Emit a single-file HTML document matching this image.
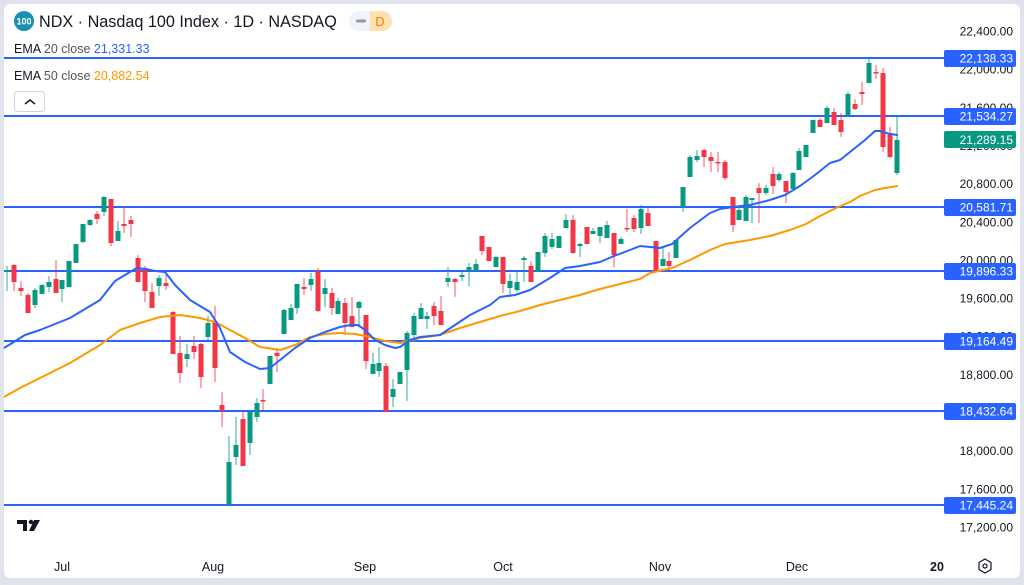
<!DOCTYPE html>
<html><head><meta charset="utf-8"><style>
html,body{margin:0;padding:0;background:#e0e3eb;}
body{width:1024px;height:585px;position:relative;overflow:hidden;font-family:"Liberation Sans",sans-serif;}
#card{position:absolute;left:4px;top:4px;width:1016px;height:574px;background:#fff;border-radius:6px;}
svg{position:absolute;left:0;top:0;}
.t{font-family:"Liberation Sans",sans-serif;}
</style></head><body>
<div id="card"></div>
<svg id="s" width="1024" height="585" xmlns="http://www.w3.org/2000/svg"></svg>
<script>
const s=document.getElementById('s');let h='';
const G='#089981',R='#f23645',B='#2962ff';
function yp(p){return 31+(22400-p)*38.15/400;}
[[22400],[22000],[21600],[21200],[20800],[20400],[20000],[19600],[19200],[18800],[18400],[18000],[17600],[17200]].forEach(a=>{
 const y=yp(a[0]);h+=`<text class="t" x="1013" y="${y+4.5}" font-size="12" fill="#131722" text-anchor="end">${a[0].toLocaleString('en-US')}.00</text>`;});
const lv=[[58,'22,138.33'],[116,'21,534.27'],[207,'20,581.71'],[271,'19,896.33'],[341,'19,164.49'],[411,'18,432.64'],[505,'17,445.24']];
lv.forEach(l=>{h+=`<line x1="4" x2="944" y1="${l[0]}" y2="${l[0]}" stroke="${B}" stroke-width="2"/>`;});
const C=[[7,270,272,266,291,G],[14,265,282,264,291,R],[21,288,291,281,296,R],[28,295,313,293,313,R],[35,290,305,288,308,G],[42,285,294,284,294,G],[49,282,287,276,292,G],[56,279,293,260,293,R],[62,280,289,280,302,G],[69,261,287,261,287,G],[76,244,263,244,263,G],[83,224,242,224,243,G],[90,220,225,219,226,G],[97,214,219,211,224,R],[104,197,212,196,216,G],[111,199,243,199,246,R],[118,231,241,221,241,G],[124,224,226,206,233,R],[131,220,224,216,237,R],[138,258,282,255,282,R],[145,268,291,266,302,R],[152,292,308,283,308,R],[159,278,286,275,296,G],[166,283,286,275,290,R],[173,312,354,311,354,R],[180,353,373,336,383,R],[187,354,359,344,367,G],[194,346,352,336,359,R],[201,344,377,343,388,R],[208,323,337,316,340,G],[215,321,368,306,382,R],[222,405,411,392,427,R],[229,462,505,436,505,G],[236,445,457,417,465,G],[243,419,466,411,466,R],[250,412,443,411,455,G],[257,403,417,398,422,G],[263,400,401,389,411,R],[270,356,384,356,384,G],[277,353,356,348,372,R],[284,310,334,309,334,G],[291,308,320,304,320,G],[297,284,308,284,314,G],[304,287,289,278,295,R],[311,279,285,273,291,G],[318,271,311,268,312,R],[325,288,294,279,307,G],[332,293,308,288,315,R],[338,301,314,298,314,G],[345,303,323,298,335,R],[352,316,327,297,327,R],[359,302,308,301,326,G],[366,315,361,315,369,R],[373,364,374,353,374,G],[379,363,371,347,377,G],[386,366,412,363,412,R],[393,389,397,379,407,G],[400,372,384,372,384,G],[407,333,370,331,401,G],[414,316,335,313,342,G],[421,308,319,303,319,G],[427,316,319,312,329,G],[434,306,316,302,325,R],[441,311,325,296,325,R],[448,278,282,267,287,G],[455,279,282,278,297,R],[462,275,277,270,281,G],[469,267,271,263,286,G],[476,264,271,259,271,G],[482,236,251,236,255,R],[489,247,261,247,261,R],[496,257,267,256,267,G],[503,257,284,257,293,R],[510,281,288,274,297,G],[517,282,290,272,292,G],[524,258,260,256,282,G],[531,266,282,261,282,R],[538,252,272,252,272,G],[545,236,253,233,257,G],[552,239,247,233,249,G],[559,236,248,236,248,G],[566,220,228,214,228,G],[573,220,253,215,254,R],[580,244,246,243,257,G],[587,227,244,227,244,R],[593,231,234,228,234,G],[600,227,236,227,243,G],[607,225,238,221,238,G],[614,233,255,233,267,R],[621,239,244,237,244,G],[627,228,229,209,232,R],[634,218,229,215,232,R],[641,209,228,205,234,G],[648,213,226,208,226,R],[656,241,272,241,272,R],[663,259,266,247,266,G],[669,261,266,252,272,R],[676,240,258,240,258,G],[683,187,207,187,212,G],[690,157,177,155,177,G],[697,156,160,150,162,G],[704,150,157,149,167,R],[711,157,161,152,172,R],[718,162,163,152,172,R],[725,162,178,160,180,R],[733,197,225,197,232,R],[739,210,220,206,220,G],[746,197,221,195,221,G],[752,198,200,198,223,G],[759,188,193,183,223,R],[766,188,193,185,195,G],[773,174,186,167,194,R],[779,174,180,172,182,G],[786,181,192,181,203,R],[793,173,189,172,189,G],[799,151,170,148,170,G],[806,145,157,145,157,G],[813,120,133,120,133,G],[820,120,127,118,127,R],[827,108,123,106,123,G],[834,112,125,108,125,R],[841,120,132,113,137,R],[848,94,116,92,116,G],[855,104,109,99,110,R],[862,92,94,82,105,R],[869,63,83,58,83,G],[876,72,73,65,79,R],[883,73,147,68,152,R],[890,133,157,127,158,R],[897,140,173,116,175,G]];
C.forEach(c=>{const col=c[5];
 h+=`<line x1="${c[0]}" x2="${c[0]}" y1="${c[3]}" y2="${c[4]}" stroke="${col}" stroke-opacity=".7" stroke-width="1.2"/>`;
 h+=`<rect x="${c[0]-2.5}" y="${c[1]}" width="5" height="${Math.max(1.5,c[2]-c[1])}" fill="${col}"/>`;});
const blue=[[4,348],[25,335],[40,330],[70,318],[100,300],[115,281],[130,272],[137,268],[145,269],[155,271],[165,272],[175,285],[190,300],[200,306],[210,312],[220,328],[230,352],[245,362],[260,369],[270,368],[280,360],[295,348],[310,338],[325,332],[340,327],[350,325],[358,325],[365,330],[375,340],[385,345],[395,348],[400,347],[410,340],[420,337],[440,335],[455,325],[470,315],[490,305],[500,297],[515,295],[530,290],[550,278],[565,268],[580,266],[600,262],[614,256],[630,250],[640,246],[650,247],[660,248],[672,244],[690,228],[710,213],[720,209],[733,207],[750,205],[770,200],[785,195],[800,186],[815,175],[830,163],[840,160],[855,148],[865,140],[875,131],[880,131],[890,134],[898,135]];
const org=[[4,397],[20,388],[40,378],[70,363],[100,345],[120,330],[140,323],[160,317],[180,315],[200,318],[215,322],[230,330],[245,338],[260,347],[280,350],[295,345],[310,337],[325,334],[340,333],[355,334],[370,337],[385,341],[400,343],[420,338],[440,335],[460,328],[480,322],[500,316],[520,311],[540,305],[560,300],[580,295],[600,289],[620,284],[640,279],[650,273],[672,268],[690,260],[710,250],[725,244],[750,240],[770,236],[790,230],[806,224],[820,216],[836,208],[850,202],[860,196],[875,190],[885,188],[898,186]];
h+=`<polyline points="${org.join(' ')}" fill="none" stroke="#ff9800" stroke-width="2" stroke-linejoin="round"/>`;
h+=`<polyline points="${blue.join(' ')}" fill="none" stroke="${B}" stroke-width="2" stroke-linejoin="round"/>`;
lv.forEach(l=>{h+=`<rect x="944" y="${l[0]-8}" width="72" height="17" rx="2" fill="${B}"/><text class="t" x="1013" y="${l[0]+4.5}" font-size="12" fill="#fff" text-anchor="end">${l[1]}</text>`;});
h+=`<rect x="944" y="131" width="72" height="17" rx="2" fill="${G}"/><text class="t" x="1013" y="144" font-size="12" fill="#fff" text-anchor="end">21,289.15</text>`;
h+=`<circle cx="24" cy="21" r="10" fill="#1a8fb0"/><text class="t" x="24" y="24.5" font-size="9" font-weight="bold" fill="#fff" text-anchor="middle">100</text>`;
h+=`<text class="t" x="39" y="27" font-size="16.2" fill="#131722">NDX · Nasdaq 100 Index · 1D · NASDAQ</text>`;
h+=`<path d="M359 11h12v20h-12a10 10 0 0 1 0-20z" fill="#f0f3fa"/><rect x="370" y="11" width="12" height="20" fill="#ffe0b2"/><path d="M382 11a10 10 0 0 1 0 20z" fill="#ffe0b2"/><rect x="356" y="19.5" width="10" height="3" rx="1.5" fill="#9598a1"/><text class="t" x="380" y="26" font-size="13" fill="#f57c00" text-anchor="middle">D</text>`;
h+=`<text class="t" x="14" y="53" font-size="12.5" fill="#131722">EMA <tspan fill="#555">20 close</tspan> <tspan fill="${B}">21,331.33</tspan></text>`;
h+=`<text class="t" x="14" y="80" font-size="12.5" fill="#131722">EMA <tspan fill="#555">50 close</tspan> <tspan fill="#ff9800">20,882.54</tspan></text>`;
h+=`<rect x="14.5" y="91.5" width="30" height="20" rx="3" fill="#fff" stroke="#d1d4dc"/><path d="M25 104l5-4 5 4" fill="none" stroke="#131722" stroke-width="1.5"/>`;
h+=`<path d="M17 520h10v11h-4v-7h-6z" fill="#131722"/><circle cx="31" cy="522" r="2.2" fill="#131722"/><path d="M34 520h6l-6 11h-5z" fill="#131722"/>`;
[['Jul',62],['Aug',213],['Sep',365],['Oct',503],['Nov',660],['Dec',797]].forEach(t=>{h+=`<text class="t" x="${t[1]}" y="571" font-size="12.5" fill="#131722" text-anchor="middle">${t[0]}</text>`;});
h+=`<text class="t" x="937" y="571" font-size="12.5" font-weight="bold" fill="#131722" text-anchor="middle">20</text>`;
h+=`<path d="M985 559l6 3.5v7l-6 3.5-6-3.5v-7z" fill="none" stroke="#131722" stroke-width="1.2"/><circle cx="985" cy="566" r="2" fill="none" stroke="#131722" stroke-width="1.2"/>`;
s.innerHTML=h;
</script>
</body></html>
